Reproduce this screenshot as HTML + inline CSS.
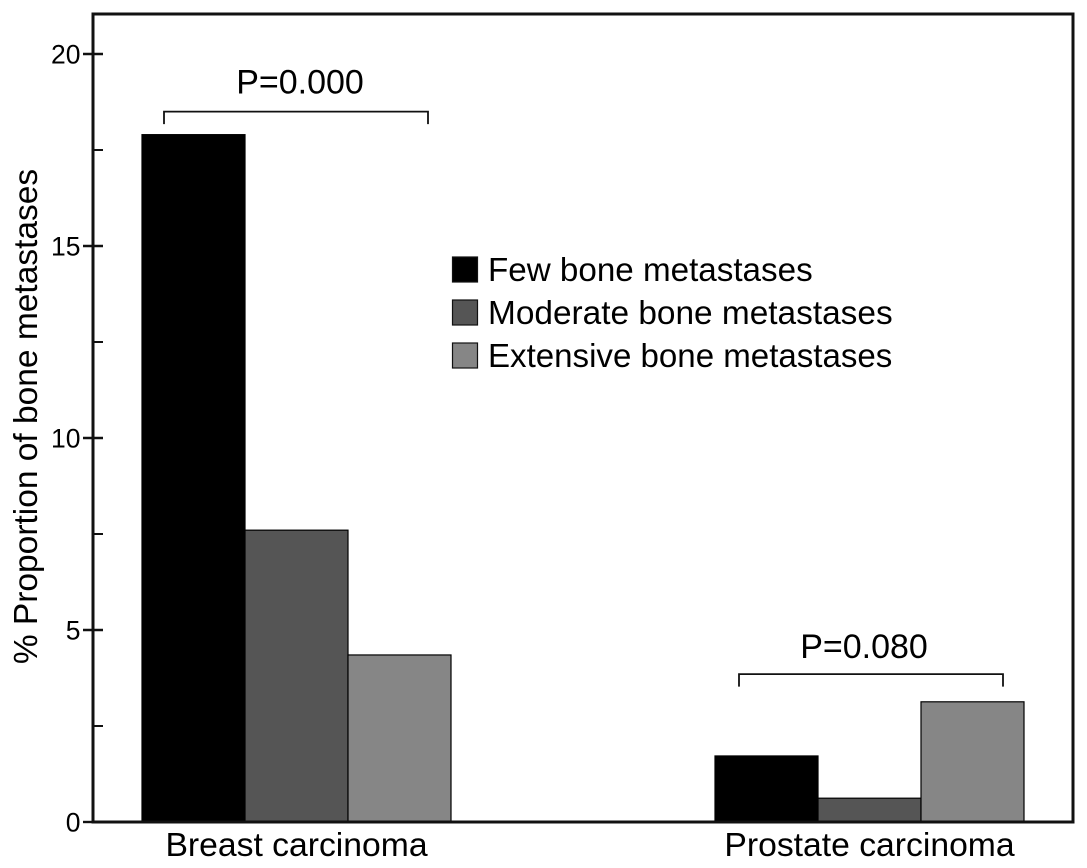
<!DOCTYPE html>
<html>
<head>
<meta charset="utf-8">
<title>Bone metastases chart</title>
<style>
html,body{margin:0;padding:0;background:#fff;}
svg{display:block;}
text{font-family:"Liberation Sans",sans-serif;fill:#000;}
</style>
</head>
<body>
<svg id="chart" xmlns="http://www.w3.org/2000/svg" width="1087" height="868" viewBox="0 0 1087 868"></svg>
<script>
const categories = ["Breast carcinoma", "Prostate carcinoma"];
const seriesNames = ["Few bone metastases", "Moderate bone metastases", "Extensive bone metastases"];
const fewValues = [17.9, 1.72];
const moderateValues = [7.6, 0.62];
const extensiveValues = [4.35, 3.13];
const majorTicks = [0, 5, 10, 15, 20];
const minorTicks = [2.5, 7.5, 12.5, 17.5];
const pLabels = ["P=0.000", "P=0.080"];
const bracketLevels = [18.5, 3.85];

const seriesValues = [fewValues, moderateValues, extensiveValues];
const fills = ["#000000", "#555555", "#868686"];
const NS = "http://www.w3.org/2000/svg";
const svg = document.getElementById("chart");

function yScale(v) { return 822 - v * 38.4; }
function groupCenter(i) { return 296.5 + 573 * i; }
function barLeft(i, j) { return groupCenter(i) + (j - 1.5) * 103; }

function make(tag, attrs, text) {
  const el = document.createElementNS(NS, tag);
  for (const k in attrs) el.setAttribute(k, attrs[k]);
  if (text !== undefined) el.textContent = text;
  svg.appendChild(el);
  return el;
}

// Bars
seriesValues.forEach(function (vals, j) {
  vals.forEach(function (v, i) {
    const bar = make("rect", {
      x: barLeft(i, j), y: yScale(v), width: 103, height: yScale(0) - yScale(v),
      fill: fills[j], stroke: "#000", "stroke-width": 1.2
    });
    
    
  });
});

// Plot frame
const frame = make("path", {
  d: "M93 " + yScale(0) + " V14 H1073 V" + yScale(0) + " Z",
  fill: "none", stroke: "#111", "stroke-width": 3
});



// Major ticks and labels
majorTicks.forEach(function (t) {
  const y = yScale(t);
  const tick = make("line", { x1: 83, x2: t === 0 ? 93 : 103, y1: y, y2: y, stroke: "#111", "stroke-width": 2.4 });
  
  
  const label = make("text", { x: 80.5, y: y + 9.5, "text-anchor": "end", "font-size": 26.5 }, String(t));
  
  
});

// Minor ticks
minorTicks.forEach(function (t) {
  const y = yScale(t);
  const tick = make("line", { x1: 93, x2: 103, y1: y, y2: y, stroke: "#111", "stroke-width": 2 });
  
  
});

// Y axis title
const yTitle = make("text", {
  transform: "translate(37 416.5) rotate(-90)", "text-anchor": "middle", "font-size": 33.5
}, "% Proportion of bone metastases");



// Category labels
categories.forEach(function (c, i) {
  const label = make("text", {
    x: groupCenter(i), y: 856, "text-anchor": "middle", "font-size": 33.7
  }, c);
  
  
});

// Significance brackets
pLabels.forEach(function (p, i) {
  const cx = groupCenter(i) + (i === 0 ? -0.5 : 1.5);
  const y = yScale(bracketLevels[i]);
  const bracket = make("path", {
    d: "M" + (cx - 132) + " " + (y + 12.5) + " V" + y + " H" + (cx + 132) + " V" + (y + 12.5),
    fill: "none", stroke: "#111", "stroke-width": 1.8
  });
  
  
  const label = make("text", {
    x: cx + (i === 0 ? 4 : -7), y: y - (i === 0 ? 18 : 16), "text-anchor": "middle", "font-size": 34
  }, p);
  
  
});

// Legend
const legendFontSizes = [33.2, 33.4, 33.07];
seriesNames.forEach(function (name, j) {
  const top = 257 + j * 43;
  const swatch = make("rect", {
    x: 452.5, y: top, width: 25, height: 25, fill: fills[j], stroke: "#111", "stroke-width": 1.2
  });
  
  
  const label = make("text", { x: 488, y: top + 24, "font-size": legendFontSizes[j] }, name);
  
  
});
</script>
</body>
</html>
